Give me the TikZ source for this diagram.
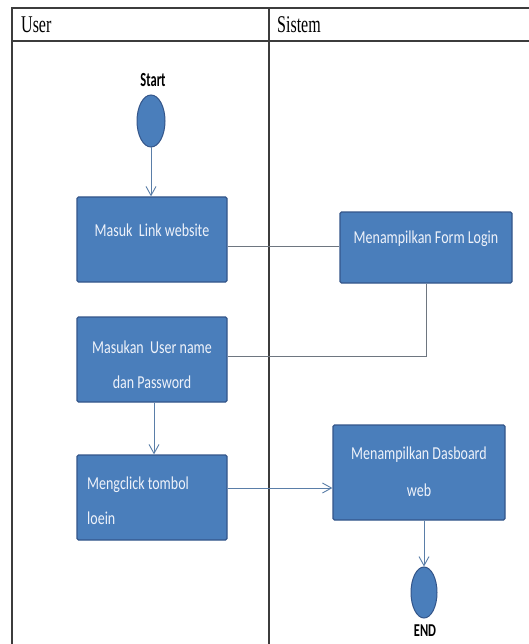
\documentclass[tikz,border=0pt]{standalone}
\usepackage{fontspec}
\setmainfont{Liberation Serif}
\newfontfamily\boxfont{Carlito}
\usetikzlibrary{arrows.meta,shapes.geometric}
\definecolor{actfill}{HTML}{4A7EBB}
\definecolor{actedge}{HTML}{34568A}
\definecolor{flow}{HTML}{5A7EA8}
\definecolor{link}{HTML}{6E7680}
\definecolor{grid}{HTML}{3C3C3C}
\definecolor{acttext}{HTML}{EEF2FA}
\newcommand{\tall}[2]{\scalebox{1}[#1]{#2}}
\tikzset{
  x=1pt, y=-1pt,
  lane/.style={draw=grid, line width=1.6pt},
  lanetitle/.style={anchor=west, inner sep=0pt, font=\fontsize{16}{16}\selectfont},
  act/.style={draw=actedge, fill=actfill, line width=1.3pt, rounded corners=1.5pt,
    minimum width=150pt, minimum height=85pt, inner sep=0pt},
  acttxt/.style={text=acttext, inner sep=0pt, font=\boxfont\fontsize{14}{14}\selectfont},
  terminal/.style={ellipse, draw=actedge, fill=actfill, line width=1pt, inner sep=0pt},
  termtxt/.style={inner sep=0pt, font=\boxfont\bfseries\fontsize{12.5}{12.5}\selectfont},
  flowline/.style={draw=flow, line width=0.9pt},
  linkline/.style={draw=link, line width=1pt},
  flowarrow/.style={flowline, -{Straight Barb[length=9pt,width=10pt,line width=0.9pt]}}
}
\begin{document}
\begin{tikzpicture}
\useasboundingbox (0,0) rectangle (529,644);
\fill[white] (0,0) rectangle (529,644);

% swimlane table
\draw[lane] (12,644) -- (12,8) -- (529,8);
\draw[lane] (12,41) -- (529,41);
\draw[lane] (269,8) -- (269,644);
\node[lanetitle] (hUser) at (21,25) {\tall{1.5}{User}};
\node[lanetitle] (hSistem) at (277,25) {\tall{1.5}{Sistem}};

% start / end
\node[termtxt] (tStart) at (153,80) {\tall{1.6}{Start}};
\node[terminal, minimum width=28pt, minimum height=52pt] (start) at (151,121) {};
\node[terminal, minimum width=26pt, minimum height=51pt] (finish) at (424,592.5) {};
\node[termtxt] (tEnd) at (425,631) {\tall{1.45}{END}};

% activities
\node[act] (b1) at (152,239.5) {};
\node[act, minimum width=172pt, minimum height=71pt] (b2) at (426,247.5) {};
\node[act] (b3) at (152,359.5) {};
\node[act] (b4) at (152,497.5) {};
\node[act, minimum width=172pt, minimum height=95pt] (b5) at (419,472.5) {};

\node[acttxt] (t1) at (152,230) {\tall{1.3}{Masuk\ \ Link website}};
\node[acttxt] (t2) at (426,239) {\tall{1.3}{Menampilkan\ Form Login}};
\node[acttxt] (t3a) at (152,347) {\tall{1.3}{Masukan\ \ User name}};
\node[acttxt] (t3b) at (152,382) {\tall{1.3}{dan Password}};
\node[acttxt, anchor=west] (t4a) at (87,485) {\tall{1.3}{Mengclick tombol}};
\node[acttxt, anchor=west] (t4b) at (87,518) {\tall{1.3}{loein}};
\node[acttxt] (t5a) at (419,455) {\tall{1.3}{Menampilkan\ Dasboard}};
\node[acttxt] (t5b) at (419,490) {\tall{1.3}{web}};

% flow
\coordinate (r1) at (280,246);
\coordinate (r2) at (280,356);
\coordinate (r3) at (280,488);
\draw[flowarrow] (start.south) -- (start.south |- b1.north);
\draw[linkline] (b1.east |- r1) -- (b2.west |- r1);
\draw[linkline] (b2.south) |- (b3.east |- r2);
\draw[flowarrow] ([xshift=2pt]b3.south) -- ([xshift=2pt]b4.north);
\draw[flowarrow] (b4.east |- r3) -- (b5.west |- r3);
\draw[flowarrow] (finish.north |- b5.south) -- (finish.north);
\end{tikzpicture}
\end{document}
